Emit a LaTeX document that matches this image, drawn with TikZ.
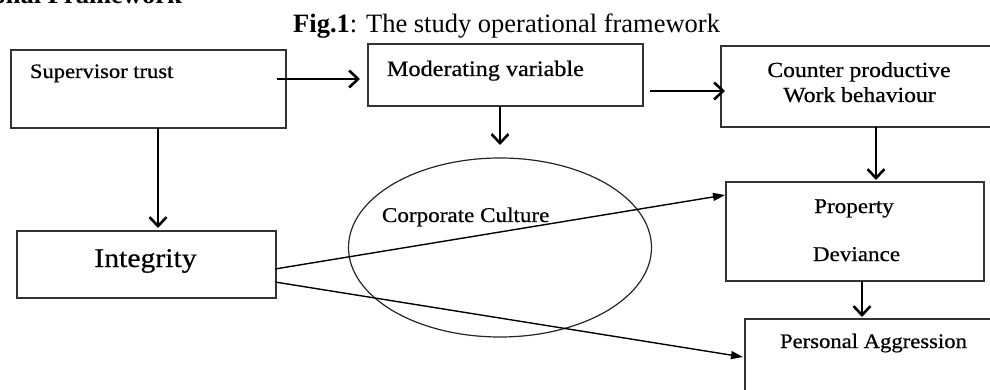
\documentclass[tikz,border=0pt]{standalone}
\usepackage{fontspec}
\setmainfont{Liberation Serif}
\newfontfamily\boxfont[FakeStretch=1.1,FakeBold=0.6]{Liberation Serif}
\usetikzlibrary{arrows.meta,shapes.geometric}

\begin{document}
\begin{tikzpicture}[x=1pt,y=-1pt,
  framebox/.style={draw=black!80, line width=1.5pt, inner sep=0pt, outer sep=0pt},
  label text/.style={inner sep=0pt, outer sep=0pt, font=\boxfont},
  flow/.style={line width=2.6pt, -{Straight Barb[length=9pt,width=17pt]}},
  link/.style={line width=1.4pt, -{Triangle[length=12pt,width=8pt]}}]

\useasboundingbox (0,0) rectangle (990,390);
\clip (0,0) rectangle (990,390);

% headings
\node[inner sep=0pt, anchor=base east] (head) at (182,4)
  {\fontsize{26.5}{30}\selectfont\bfseries onal Framework};
\node[inner sep=0pt, anchor=base west] (cap) at (293,33)
  {\fontsize{26.5}{30}\selectfont\textbf{Fig.1}: The study operational framework};

% boxes
\node[framebox, minimum width=275pt, minimum height=78pt] (sup) at (148.5,89) {};
\node[framebox, minimum width=275pt, minimum height=62pt] (mod) at (505.5,75) {};
\node[framebox, minimum width=276pt, minimum height=81pt] (cwb) at (859,86.5) {};
\node[framebox, minimum width=259pt, minimum height=67pt] (int) at (146.5,264.5) {};
\node[framebox, minimum width=258pt, minimum height=99pt] (pd) at (855,231.5) {};
\node[framebox, minimum width=257pt, minimum height=101pt] (pa) at (873.5,369.5) {};
\node[draw=black!85, line width=1.2pt, ellipse, inner sep=0pt, outer sep=0pt,
      minimum width=303pt, minimum height=179pt] (ell) at (500,247.5) {};

% box texts
\node[label text, anchor=base west] (tsup) at (30,78)
  {\fontsize{20.5}{24}\selectfont Supervisor trust};
\node[label text, anchor=base west] (tmod) at (387,76)
  {\fontsize{22}{26}\selectfont Moderating variable};
\node[label text, anchor=base] (tcwb1) at (859,77)
  {\fontsize{21.5}{25}\selectfont Counter productive};
\node[label text, anchor=base] (tcwb2) at (859.5,102)
  {\fontsize{21.5}{25}\selectfont Work behaviour};
\node[label text, anchor=base] (tpd1) at (854,213)
  {\fontsize{21}{25}\selectfont Property};
\node[label text, anchor=base] (tpd2) at (856.5,261)
  {\fontsize{21}{25}\selectfont Deviance};
\node[label text, anchor=base] (tpa) at (873.5,348)
  {\fontsize{20.6}{24}\selectfont Personal Aggression};
\node[label text, anchor=base west] (tell) at (382,222)
  {\fontsize{21}{25}\selectfont Corporate Culture};
\node[label text, anchor=base] (tint) at (145.5,267)
  {\fontsize{27}{31}\selectfont Integrity};

% vertical and horizontal flows
\draw[flow] ([xshift=-9pt,yshift=10pt]sup.east) -- ([xshift=-8pt,yshift=-4pt]mod.west);
\draw[flow] ([xshift=7pt,yshift=-16pt]mod.east) -- ([xshift=4pt,yshift=-4.5pt]cwb.west);
\draw[flow] ([xshift=17pt]cwb.south) -- ([xshift=21pt,yshift=2pt]pd.north);
\draw[flow] ([xshift=7pt]pd.south) -- ([xshift=-11.5pt,yshift=2pt]pa.north);
\draw[flow] ([xshift=9.5pt]sup.south) -- ([xshift=11.5pt,yshift=3pt]int.north);
\draw[flow] ([xshift=-5.5pt]mod.south) -- ([yshift=13pt]ell.north);

% links from Integrity
\draw[link] ([xshift=-1pt,yshift=-4.5pt]int.east) -- ([xshift=-1pt,yshift=36.5pt]pd.west);
\draw[link] ([xshift=-1pt,yshift=-17.5pt]int.east) -- ([xshift=-2pt,yshift=12.5pt]pa.west);

\end{tikzpicture}
\end{document}
